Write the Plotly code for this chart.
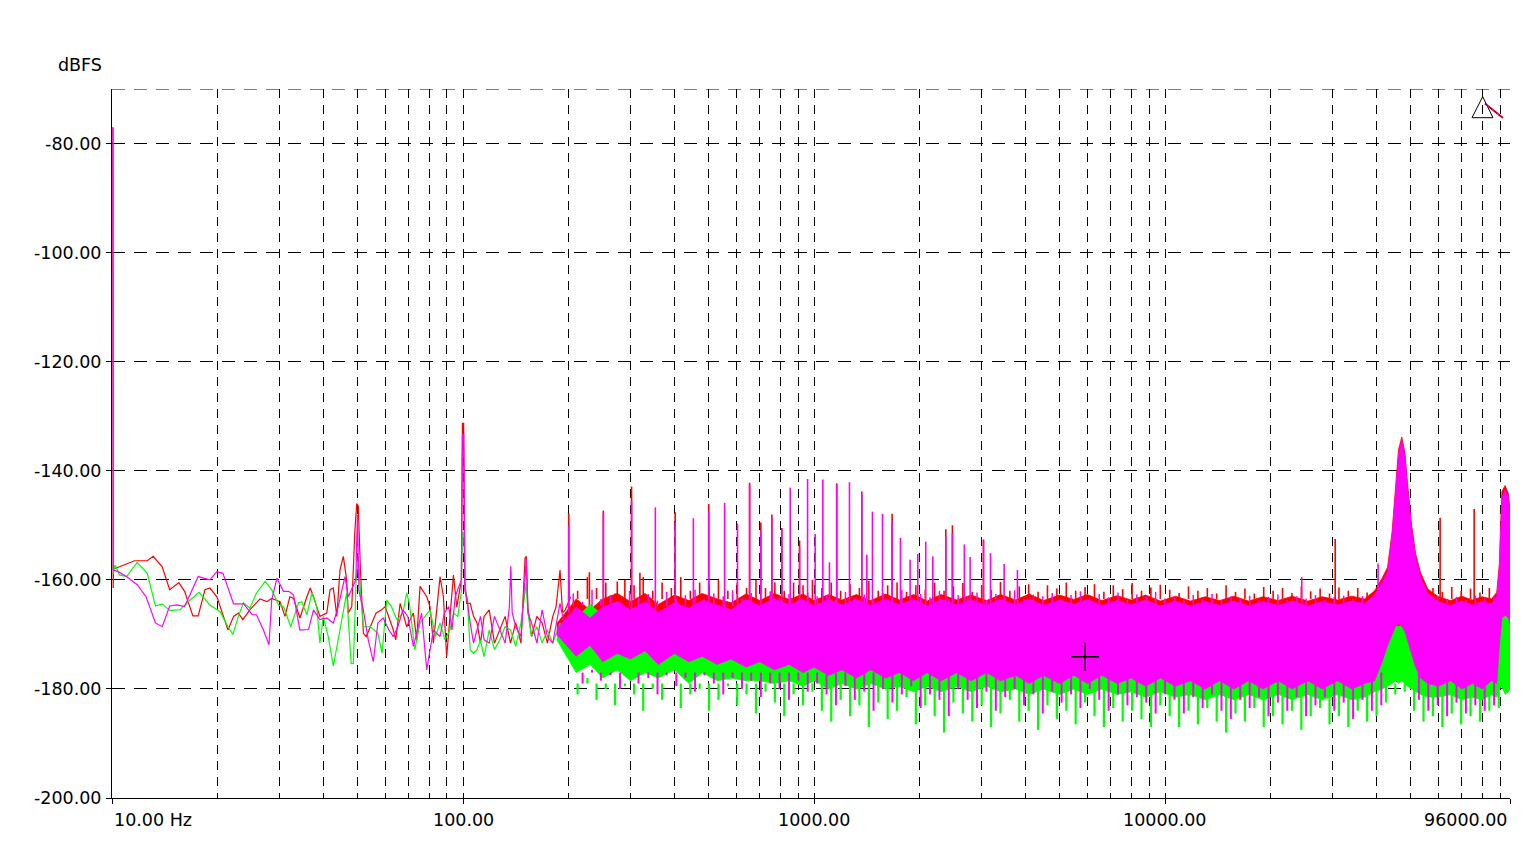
import numpy as np
import plotly.graph_objects as go

# ---------------- DATA ----------------
RED, GREEN, MAGENTA = "#FF0000", "#00FF00", "#FF00FF"

# low-frequency traces (Hz, dBFS)
red_lf_freq = [10.06, 10.08, 10.1, 10.5, 11.6, 12.6, 13.1, 13.9, 14.6, 15.5, 16.1, 17.0, 17.6, 18.4, 19.0, 19.9,
               20.5, 21.4, 22.2, 22.9, 23.6, 24.7, 26.4, 27.6, 28.5, 30.1, 31.1, 32.1, 32.9, 34.3, 35.9, 36.7,
               37.5, 39.1, 40.9, 41.8, 42.7, 43.7, 44.6, 45.6, 46.6, 47.1, 48.2, 49.2, 49.8, 50.3, 51.0, 52.0,
               53.0, 55.5, 56.5, 58.6, 60.0, 63.3, 64.3, 66.2, 67.8, 69.1, 72.2, 73.8, 75.4, 78.8, 80.5, 82.3,
               86.0, 87.9, 89.8, 91.8, 93.9, 96.0, 98.9, 99.6, 100.4, 101.2, 102.4, 104.8, 107.1, 109.6, 112.1,
               114.8, 118.7, 122.9, 127.3, 131.8, 136.5, 141.3, 146.2, 150.2, 151.4, 153.0, 156.7, 162.3, 168.0,
               173.9, 180.1, 184.0, 188.9, 192.0, 195.6, 202.5]
red_lf_db = [-77, -161.5, -158.0, -157.6, -156.5, -156.5, -155.7, -157.6, -161.8, -160.5, -162.1, -166.6, -166.6,
             -161.8, -161.5, -163.1, -165.5, -169.2, -166.7, -166.1, -167.3, -165.5, -163.5, -164.0, -163.4, -164.0,
             -166.7, -163.1, -163.4, -167.0, -163.1, -161.5, -163.1, -166.7, -166.1, -161.8, -161.5, -166.7, -158.2,
             -155.7, -160.0, -166.1, -164.9, -150.8, -146.0, -146.5, -158.0, -169.8, -170.4, -167.3, -166.1, -165.5,
             -164.9, -169.2, -171.0, -164.3, -166.7, -168.6, -166.1, -171.0, -161.2, -163.1, -164.9, -171.6, -159.4,
             -163.1, -174.1, -166.1, -159.1, -165.0, -160.0, -131.3, -131.3, -160.0, -164.3, -164.3, -166.7, -167.9,
             -171.6, -166.7, -165.5, -171.6, -169.2, -166.7, -171.6, -167.9, -171.6, -156.0, -155.7, -165.0, -170.4,
             -166.7, -167.9, -171.6, -166.7, -165.0, -158.2, -166.0, -165.5, -163.1]

green_lf_freq = [10.06, 10.2, 10.5, 11.0, 11.8, 12.6, 13.3, 13.9, 14.6, 15.6, 16.7, 17.7, 19.0, 20.3, 21.4, 22.1,
                 22.9, 23.7, 24.7, 25.8, 27.3, 28.5, 29.8, 30.8, 32.3, 34.0, 34.7, 35.9, 37.1, 38.3, 39.1, 40.0,
                 41.3, 42.7, 44.6, 46.6, 48.0, 48.7, 49.6, 50.3, 51.0, 52.0, 54.5, 57.2, 58.8, 60.6, 62.5, 64.8,
                 67.4, 69.1, 70.3, 72.9, 75.4, 77.8, 80.5, 83.5, 86.0, 88.8, 91.8, 93.9, 96.6, 98.9, 99.6, 100.4,
                 101.5, 102.9, 104.8, 107.1, 109.6, 112.1, 114.8, 118.7, 122.9, 127.3, 131.8, 136.5, 141.3, 146.2,
                 150.2, 151.4, 153.0, 156.7, 162.3, 168.0, 173.9, 180.1, 188.9, 195.6, 202.5]
green_lf_db = [-159.0, -157.3, -159.1, -159.4, -156.8, -158.8, -164.8, -164.4, -165.6, -165.5, -163.7, -162.3,
               -164.6, -165.8, -168.6, -170.0, -166.7, -164.2, -165.2, -162.4, -160.3, -161.8, -164.6, -164.9,
               -168.6, -164.2, -164.0, -166.4, -162.4, -164.9, -171.6, -166.7, -170.4, -175.8, -169.2, -162.4,
               -175.3, -175.3, -160.0, -155.7, -162.0, -168.6, -168.6, -169.8, -173.5, -163.7, -164.9, -167.3,
               -166.1, -162.4, -164.3, -172.8, -167.9, -166.7, -165.5, -170.4, -167.9, -171.0, -169.2, -166.1,
               -166.7, -162.0, -151.4, -151.4, -162.0, -163.7, -172.8, -173.5, -172.8, -171.0, -174.1, -169.2,
               -172.8, -171.0, -168.6, -169.2, -172.2, -167.9, -162.0, -160.6, -166.0, -170.4, -168.6, -171.6,
               -169.2, -171.6, -167.9, -171.6, -170.4]

magenta_lf_freq = [10.06, 10.08, 10.4, 11.0, 11.8, 12.5, 13.3, 13.9, 14.6, 15.3, 16.1, 17.6, 19.0, 19.9, 20.7,
                   22.2, 23.7, 25.1, 25.8, 27.0, 28.0, 28.5, 29.5, 30.8, 31.9, 32.9, 34.3, 36.3, 37.5, 39.1, 40.9,
                   42.7, 44.1, 45.1, 46.1, 47.1, 49.5, 50.0, 50.5, 52.0, 53.7, 55.5, 57.2, 59.2, 61.5, 63.3, 65.2,
                   67.4, 69.6, 72.2, 74.0, 76.2, 78.8, 82.3, 86.0, 88.4, 91.0, 93.0, 95.0, 98.9, 99.6, 100.4, 101.2,
                   102.4, 104.8, 107.1, 109.6, 112.1, 114.8, 118.7, 122.9, 127.3, 131.8, 135.5, 136.8, 138.0, 141.3,
                   146.2, 150.2, 151.4, 153.0, 156.7, 162.3, 168.0, 173.9, 180.1, 188.9, 195.6, 202.5]
magenta_lf_db = [-77, -158.2, -158.5, -159.4, -160.9, -163.1, -167.9, -168.6, -164.8, -164.6, -164.9, -159.4,
                 -160.0, -158.5, -158.8, -164.4, -164.4, -166.4, -166.4, -169.2, -171.9, -163.7, -159.7, -162.1,
                 -162.1, -162.8, -169.2, -169.1, -165.5, -167.3, -167.0, -167.9, -164.9, -161.8, -159.4, -163.1,
                 -160.0, -148.0, -162.0, -165.5, -171.0, -175.0, -167.9, -167.0, -169.2, -170.4, -168.6, -165.5,
                 -166.7, -172.2, -169.2, -166.1, -176.5, -169.2, -170.4, -166.1, -164.9, -169.2, -163.1, -160.0,
                 -133.4, -133.4, -162.0, -163.1, -167.9, -171.6, -169.2, -166.7, -171.0, -171.6, -166.7, -169.2,
                 -171.6, -165.0, -157.5, -166.0, -168.6, -170.4, -158.0, -156.3, -166.0, -167.9, -171.6, -165.5,
                 -170.4, -171.6, -164.3, -169.2, -166.7]

# dense noise band (Hz) with upper / lower edges (dBFS)
band_freq = [185, 210, 230, 250, 275, 300, 330, 360, 400, 440,
             480, 530, 580, 640, 700, 770, 850, 930, 1000, 1100,
             1200, 1320, 1450, 1600, 1750, 1920, 2100, 2300, 2550, 2800,
             3100, 3400, 3750, 4100, 4500, 5000, 5500, 6000, 6600, 7300,
             8000, 8800, 9700, 10700, 11800, 13000, 14300, 15700, 17300, 19000,
             21000, 23000, 25500, 28000, 31000, 34000, 37000, 39500, 41500, 43000,
             44300, 45300, 46200, 47200, 48200, 49000, 50300, 51700, 53400, 56000,
             60000, 65000, 70000, 75000, 80000, 85000, 88000, 89500, 91000, 93000,
             95000, 96000]

magenta_hi = [-169, -165, -167, -165, -164, -165.5, -164, -166, -164.2, -165.2,
              -163.8, -164.6, -165.5, -163.6, -164.8, -163.4, -164.6, -163.6, -164.8, -163.6,
              -164.6, -163.6, -164.7, -163.5, -164.6, -163.6, -164.8, -163.6, -164.6, -163.7,
              -164.7, -163.6, -164.6, -163.5, -164.7, -163.7, -164.5, -163.6, -164.7, -163.8,
              -164.6, -163.7, -164.8, -163.9, -164.8, -164.0, -164.7, -163.9, -164.8, -164.0,
              -164.7, -163.9, -164.8, -164.0, -164.6, -163.9, -164.4, -162.8, -160.5, -158.5,
              -152, -144, -137, -134.4, -137.5, -143, -150.5, -156, -159.5, -162.5,
              -164.0, -164.7, -163.9, -164.6, -164.0, -164.4, -163.2, -158, -145, -143.5,
              -145, -148]
magenta_lo = [-170, -174, -172, -175, -173.5, -174.5, -173, -175.5, -173.5, -175,
              -174, -175.5, -174.5, -176, -175, -176.5, -175.5, -177, -176, -177.5,
              -176.5, -178, -176.5, -178, -177, -178.5, -177, -178.5, -177, -178.5,
              -177, -178.5, -177.5, -179, -177.5, -179, -177.5, -179, -177.5, -179,
              -178, -179.5, -178, -179.5, -178.5, -180, -178.5, -180, -178.5, -180,
              -178.5, -180, -178.5, -180, -178.5, -180, -179, -178.5, -175, -172,
              -170, -168.5, -168, -168.5, -169.5, -171, -173.5, -176, -178, -179,
              -179.5, -178.5, -180, -179, -180, -178.5, -179, -172, -167, -166.5,
              -167, -168]

red_hi = [-168, -163.5, -165.5, -163.5, -162.5, -164, -162.5, -164.5, -162.8, -163.8,
          -162.5, -163.5, -164.2, -162.6, -163.8, -162.5, -163.6, -162.6, -163.8, -162.7,
          -163.7, -162.7, -163.8, -162.6, -163.7, -162.7, -163.9, -162.7, -163.7, -162.8,
          -163.8, -162.7, -163.7, -162.6, -163.8, -162.8, -163.6, -162.7, -163.8, -162.9,
          -163.7, -162.8, -163.9, -163.0, -163.9, -163.1, -163.8, -163.0, -163.9, -163.1,
          -163.8, -163.0, -163.9, -163.1, -163.7, -163.0, -163.5, -162.0, -159.7, -157.7,
          -151.2, -143.2, -136.2, -133.8, -136.7, -142.2, -149.7, -155.2, -158.7, -161.7,
          -163.1, -163.8, -163.0, -163.7, -163.1, -163.5, -162.3, -157.2, -143.8, -142.7,
          -144.2, -147.2]
red_lo = [-170, -175, -172.5, -175.5, -174, -175, -173.5, -176, -174, -175.5,
          -174, -175.5, -174, -176, -174.5, -176, -174.5, -176.5, -175, -176.5,
          -175, -176.5, -175, -176.5, -175.5, -177, -175.5, -177, -175.5, -177,
          -175.5, -177, -176, -177.5, -176, -177.5, -176, -177.5, -176, -177.5,
          -176.5, -178, -176.5, -178, -177, -178.5, -177, -178.5, -177, -178.5,
          -177, -178.5, -177, -178.5, -177, -178.5, -177.5, -177.5, -175.5, -172,
          -170, -169, -168.5, -169, -170, -171.5, -174, -176.5, -177.5, -178,
          -178, -177, -178.5, -177.5, -178.5, -177, -177.5, -172, -168, -167,
          -167.5, -168.5]

green_hi = [-170, -167, -164.5, -166.5, -165, -167, -165.5, -167, -166, -167.5,
            -166, -167.5, -167, -168, -167.5, -168, -168, -168.5, -168, -168.5,
            -168.5, -169, -168.5, -169, -168.5, -169, -168.5, -169, -168.5, -169,
            -168.5, -169, -168.5, -169, -168.5, -169, -168.5, -169, -168.5, -169,
            -168.5, -169, -168.5, -169, -168.5, -169, -168.5, -169, -168.5, -169,
            -169, -169.5, -169, -169.5, -169, -169.5, -169, -172, -171, -170,
            -169, -168.5, -168.5, -168.5, -169, -170, -171, -172, -172, -172,
            -169.5, -169, -169.5, -169, -169.5, -169, -170, -168, -166, -165.5,
            -166, -167]
green_lo = [-171, -177, -175.5, -178, -176.5, -178.5, -177, -178, -176.5, -179,
            -177, -178.5, -178, -178.5, -178.5, -179, -178.5, -179.5, -178.5, -180,
            -179, -180, -179, -180, -179.5, -180.5, -179.5, -180.5, -179.5, -180.5,
            -179.5, -180.5, -180, -181, -180, -181, -180, -181, -180, -181,
            -180.5, -181.5, -180.5, -181.5, -181, -182, -181, -182, -181, -182,
            -181, -182, -181, -182, -181, -182, -181.5, -180.5, -180, -179.5,
            -179, -178.5, -179, -178.5, -179, -179.5, -180, -180.5, -181, -181.5,
            -181.5, -181, -182, -181.5, -182, -181, -181.5, -180, -179.5, -181,
            -180.5, -180]

# ragged fringe strokes of the noise floor (Hz, tip dBFS)
fringe_freq_a = [200, 212, 226, 240, 255, 271, 289, 307, 326, 347,
                 369, 392, 417, 444, 472, 502, 534, 568, 604, 642,
                 683, 727, 773, 822, 874, 930, 989, 1052, 1119, 1190,
                 1266, 1346, 1432, 1523, 1620, 1723, 1833, 1949, 2073, 2205,
                 2345, 2494, 2653, 2822, 3001, 3192, 3395, 3611, 3841, 4085,
                 4345, 4621, 4915, 5228, 5560, 5914, 6290, 6690, 7116, 7568,
                 8050, 8562, 9106, 9686, 10302, 10957, 11654, 12395, 13184, 14022,
                 14914, 15863, 16872, 17945, 19086, 20300, 21591, 22965, 24425, 25979,
                 27631, 29389, 31258, 33246, 35361, 37610, 40002, 42547, 45253, 48131,
                 51193, 54449, 57912, 61596, 65514, 69681, 74113, 78827, 83842, 89175]
fringe_freq_b = [206, 219, 233, 247, 263, 280, 298, 316, 337, 358,
                 380, 405, 430, 458, 487, 518, 551, 586, 623, 662,
                 705, 750, 797, 848, 902, 959, 1020, 1085, 1154, 1228,
                 1306, 1389, 1477, 1571, 1671, 1778, 1891, 2011, 2139, 2275,
                 2419, 2573, 2737, 2911, 3096, 3293, 3502, 3725, 3962, 4214,
                 4482, 4767, 5070, 5393, 5736, 6100, 6488, 6901, 7340, 7807,
                 8304, 8832, 9394, 9991, 10627, 11303, 12022, 12787, 13600, 14466,
                 15386, 16365, 17406, 18513, 19690, 20943, 22275, 23692, 25199, 26802,
                 28506, 30318, 32247, 34299, 36480, 38800, 41268, 43893, 46685, 49655,
                 52813, 56171, 59743, 63543, 67586, 71885, 76457, 81320, 86492, 92000]

green_fringe_db = [-179, -181, -178, -182, -180, -183, -179.5, -181, -184, -180,
                   -182, -179, -183.5, -181, -180, -184, -182, -179.5, -183, -181,
                   -184.5, -180.5, -182.5, -185, -181, -183, -180.5, -184, -186, -182,
                   -185, -183, -187, -182.5, -185.5, -184, -181.5, -186.5, -183, -185,
                   -188, -182.5, -184.5, -186, -183, -187, -184.5, -182, -186, -184,
                   -187.5, -183, -185.5, -184, -186.5, -182.5, -185, -187, -183.5, -186,
                   -184, -185.5, -187, -183, -185, -187, -184, -186.5, -183.5, -186,
                   -188, -184.5, -186, -183.5, -187, -185, -186.5, -184, -187.5, -185,
                   -183.5, -186.5, -185, -187, -184, -186, -185, -182.5, -181, -180.5,
                   -184, -186, -185, -187, -184.5, -186.5, -185, -186, -184, -183.5]
magenta_fringe_lo_db = [-177, -179, -176.5, -178.5, -177.5, -180, -177, -179, -178, -181,
                        -177.5, -179.5, -178, -180.5, -177.5, -179, -181, -178, -180, -178.5,
                        -181.5, -179, -180, -182, -178.5, -180.5, -179, -181, -183, -179.5,
                        -182, -180.5, -184, -180, -182.5, -181, -179.5, -183.5, -181, -182,
                        -185, -180, -182, -183.5, -180.5, -184, -181.5, -180, -183, -181,
                        -184.5, -180.5, -182.5, -181, -183.5, -180, -182, -184, -181, -183,
                        -181.5, -182.5, -184.5, -181, -182, -184.5, -181.5, -183.5, -181, -184,
                        -185.5, -182, -183.5, -181.5, -185, -182.5, -184, -181.5, -185, -183,
                        -181.5, -184, -182.5, -185.5, -182, -184, -183, -177, -177, -177,
                        -182, -184, -183, -185, -182.5, -184.5, -183, -184, -183, -177]
red_fringe_db = [-160, -162, -159.5, -161.5, -160.5, -162.5, -160, -161, -159.5, -162,
                 -160.5, -161.5, -159.5, -162, -160.5, -161, -160, -162, -160.5, -161.5,
                 -160, -161.5, -160.5, -162, -160.5, -161, -160, -161.5, -160.5, -162,
                 -160.8, -161.5, -160.2, -162, -161, -160.5, -162.2, -161, -161.8, -160.5,
                 -162, -161.2, -160.6, -162.2, -161, -161.8, -160.4, -162, -161.2, -160.8,
                 -162.2, -161, -161.6, -160.5, -162, -161.3, -160.8, -162.2, -161, -161.7,
                 -160.6, -162, -161.4, -160.9, -161.8, -162.4, -161.2, -162, -161.5, -162.5,
                 -161, -162.2, -161.6, -162.5, -161.3, -162, -161.5, -162.4, -161.2, -162.1,
                 -161.6, -162.5, -161.4, -162, -161.5, -162.3, -161.7, -163.5, -163.5, -163.5,
                 -161.8, -162.4, -161.5, -162.2, -161.3, -162, -161.6, -162.3, -161.5, -163.5]
magenta_fringe_hi_db = [-162.5, -164, -161.8, -163.5, -162.8, -164, -162, -163.2, -162.6, -163.8,
                        -162.2, -163.5, -162.8, -161.8, -163.6, -162.5, -163, -161.9, -163.4, -162.4,
                        -163.8, -162.1, -163.2, -162.6, -163.7, -162.3, -163, -162.8, -163.6, -162.2,
                        -163.3, -162.7, -163.8, -162.4, -163.1, -161.8, -163.5, -162.6, -163.2, -162,
                        -163.6, -162.8, -163.1, -162.3, -163.7, -162.6, -163.3, -161.9, -163.5, -162.7,
                        -163, -162.4, -163.6, -162.8, -162.1, -163.4, -162.6, -163.2, -162.3, -163.7,
                        -162.7, -163, -162.2, -163.4, -163.2, -163.8, -162.8, -163.5, -162.6, -163.7,
                        -163, -163.4, -162.9, -163.8, -163.1, -162.7, -163.6, -163, -163.4, -162.8,
                        -163.7, -163.2, -162.9, -163.5, -163, -163.6, -162.8, -164.8, -164.8, -164.8,
                        -163.2, -163.8, -162.9, -163.5, -163.1, -163.7, -162.9, -163.4, -163, -164.8]
green_fringe_base = -179
magenta_fringe_lo_base = -177
red_fringe_base = -163.5
magenta_fringe_hi_base = -164.8

# discrete spurs (Hz, peak dBFS)
red_spur_freq = [200, 229, 251, 275, 302, 319, 402, 501, 655, 705, 758, 809, 909, 1160, 1367, 1668,
                 2372, 2477, 3037, 30500, 60700, 75900]
red_spur_db = [-147.9, -158.6, -147.3, -160.3, -142.9, -158.7, -147.6, -146.1, -142.2, -149.5, -148.0, -150.5,
               -152.8, -142.3, -143.8, -147.9, -150.7, -150.0, -152.6, -152.5, -148.6, -147.0]
magenta_spur_freq = [200, 251, 302, 353, 402, 453, 501, 556, 605, 655, 705, 758, 809, 855, 909, 958, 1007,
                     1059, 1106, 1160, 1261, 1367, 1413, 1466, 1566, 1668, 1762, 1877, 1974, 2080, 2178, 2372,
                     2477, 2679, 2782, 3037, 3180, 3477, 3795, 24500, 40400]
magenta_spur_db = [-150.2, -147.8, -145.5, -146.7, -149.5, -148.7, -147.5, -145.9, -149.7, -142.5, -151.0,
                   -148.7, -150.8, -143.1, -154.0, -141.5, -151.6, -141.6, -156.8, -142.6, -142.1, -144.2,
                   -155.4, -147.5, -147.9, -149.5, -152.3, -156.3, -155.2, -153.0, -155.7, -152.0, -151.5,
                   -153.5, -155.8, -152.8, -155.1, -157.1, -158.2, -159.5, -157.0]
spur_base_db = -166

# cursor
cursor_freq = [5916]
cursor_db = [-174.1]

# axes
y_ticks = [-80, -100, -120, -140, -160, -180, -200]
y_top, y_bottom = -70, -200
x_label_vals = [10, 100, 1000, 10000, 96000]
x_label_text = ["10.00 Hz", "100.00", "1000.00", "10000.00", "96000.00"]
x_minor_vals = [m * d for d in (10, 100, 1000, 10000) for m in range(2, 10)]

FONT = "DejaVu Sans, Verdana, sans-serif"
FS = 17.5

# ---------------- FIGURE ----------------
def band(freq, hi, lo, color):
    return go.Scatter(x=list(freq) + list(freq[::-1]), y=list(hi) + list(lo[::-1]),
                      mode="lines", fill="toself", fillcolor=color,
                      line=dict(color=color, width=0.8), hoverinfo="skip", showlegend=False)

def strokes(freq, tips, base, color, width):
    xs, ys = [], []
    for f, p in zip(freq, tips):
        xs += [f, f, None]
        ys += [base, p, None]
    return go.Scatter(x=xs, y=ys, mode="lines", line=dict(color=color, width=width),
                      hoverinfo="skip", showlegend=False)

def line(freq, db, color):
    return go.Scatter(x=freq, y=db, mode="lines", line=dict(color=color, width=1.2),
                      hoverinfo="skip", showlegend=False)

fig = go.Figure()
fig.add_trace(band(band_freq, red_hi, red_lo, RED))
fig.add_trace(strokes(fringe_freq_a, red_fringe_db, red_fringe_base, RED, 1.6))
fig.add_trace(strokes(red_spur_freq, red_spur_db, spur_base_db, RED, 1.6))
fig.add_trace(line(red_lf_freq, red_lf_db, RED))
fig.add_trace(band(band_freq, green_hi, green_lo, GREEN))
fig.add_trace(strokes(fringe_freq_a, green_fringe_db, green_fringe_base, GREEN, 2.2))
fig.add_trace(line(green_lf_freq, green_lf_db, GREEN))
fig.add_trace(band(band_freq, magenta_hi, magenta_lo, MAGENTA))
fig.add_trace(strokes(fringe_freq_b, magenta_fringe_lo_db, magenta_fringe_lo_base, MAGENTA, 2.0))
fig.add_trace(strokes(fringe_freq_b, magenta_fringe_hi_db, magenta_fringe_hi_base, MAGENTA, 1.5))
fig.add_trace(strokes(magenta_spur_freq, magenta_spur_db, spur_base_db, MAGENTA, 1.6))
fig.add_trace(line(magenta_lf_freq, magenta_lf_db, MAGENTA))
fig.add_trace(go.Scatter(x=cursor_freq, y=cursor_db, mode="markers",
                         marker=dict(symbol="cross-thin", size=20, line=dict(color="black", width=1.5)),
                         hoverinfo="skip", showlegend=False))

# page body has an 8px margin: figure is sized so the plot area lands where the reference has it
fig.update_layout(
    width=1530, height=858, autosize=False,
    margin=dict(l=104, r=28, t=81, b=68, pad=0),
    paper_bgcolor="white", plot_bgcolor="white",
    font=dict(family=FONT, size=FS, color="black"),
    showlegend=False,
)
fig.update_xaxes(
    type="log", range=[np.log10(10), np.log10(96000)],
    tickvals=x_label_vals, ticktext=[""] * len(x_label_vals),
    ticks="outside", ticklen=5, tickcolor="black",
    showgrid=True, gridcolor="black", gridwidth=1, griddash="9px,7px",
    showline=True, linecolor="black", linewidth=1, zeroline=False,
    minor=dict(tickvals=x_minor_vals, showgrid=True, gridcolor="black", gridwidth=1,
               griddash="9px,7px", ticks=""),
)
fig.update_yaxes(
    range=[y_bottom, y_top],
    tickvals=y_ticks, ticktext=[f"{v:.2f}" for v in y_ticks],
    ticks="outside", ticklen=5, tickcolor="black", ticklabelstandoff=1,
    showgrid=True, gridcolor="black", gridwidth=1, griddash="13px,9px",
    showline=True, linecolor="black", linewidth=1, zeroline=False,
)
# dashed top grid line
fig.add_shape(type="line", xref="paper", x0=0, x1=1, yref="y", y0=y_top, y1=y_top,
              line=dict(color="black", width=1, dash="13px,9px"), layer="below")

# x tick labels
anchors = ["left", "center", "center", "center", "right"]
for v, t, a in zip(x_label_vals, x_label_text, anchors):
    fig.add_annotation(x=np.log10(v), xref="x", y=0, yref="paper", text=t, showarrow=False,
                       xanchor=a, yanchor="top", yshift=-10, font=dict(size=FS, family=FONT))

# unit label
fig.add_annotation(x=0, xref="paper", y=1, yref="paper", text="dBFS", showarrow=False,
                   xanchor="right", yanchor="middle", xshift=-8, yshift=24,
                   font=dict(size=FS, family=FONT))

# marker glyph at top right (triangle + slanted line)
tri = "M 0.98047 0.98914 L 0.97282 0.95952 L 0.98784 0.95952 Z"
fig.add_shape(type="path", path=tri, xref="paper", yref="paper", line=dict(color="black", width=1))
fig.add_shape(type="line", xref="paper", yref="paper", x0=0.98212, y0=0.97955, x1=0.99499, y1=0.95910,
              line=dict(color=RED, width=2))
fig.add_shape(type="line", xref="paper", yref="paper", x0=0.98212, y0=0.97955, x1=0.99499, y1=0.95910,
              line=dict(color="blue", width=1, dash="dot"))

fig.write_html("out.html")
